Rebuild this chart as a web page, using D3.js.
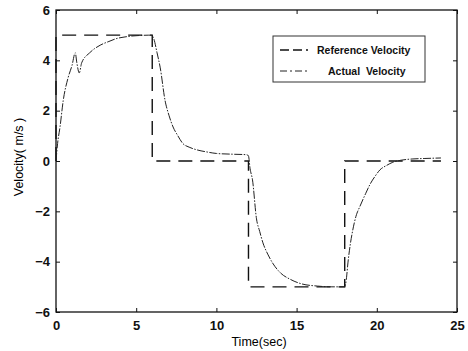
<!DOCTYPE html>
<html>
<head>
<meta charset="utf-8">
<script src="https://cdn.jsdelivr.net/npm/d3@7"></script>
<style>
  body { margin: 0; background: #fff; }
  svg text { font-family: "Liberation Sans", Arial, sans-serif; }
</style>
</head>
<body>
<div id="graph"></div>
<script>
// reference velocity (step profile)
var refTime = [0, 0, 6, 6, 12, 12, 18, 18, 24]
var refVel  = [0, 5, 5, 0, 0, -5, -5, 0, 0]

// actual velocity
var actTime = [0, 0.1, 0.25, 0.45, 0.75, 1.0, 1.2, 1.3, 1.45, 1.6, 2.1, 2.75, 3.3, 3.8, 4.3, 4.8, 5.3, 5.75, 5.95,
  6.1, 6.3, 6.5, 6.8, 7.05, 7.3, 7.6, 7.9, 8.3, 8.8, 9.4, 10.0, 11.0, 11.9, 12.0,
  12.1, 12.25, 12.5, 12.7, 12.9, 13.2, 13.5, 14.0, 14.6, 15.3, 16.3, 17.2, 17.9, 18.0,
  18.1, 18.2, 18.35, 18.5, 18.7, 18.95, 19.3, 19.6, 19.9, 20.2, 20.6, 21.0, 21.5, 22.2, 23.0, 24.0]
var actVel  = [0, 0.7, 1.35, 2.4, 3.3, 3.8, 4.3, 3.9, 3.5, 3.9, 4.3, 4.6, 4.75, 4.87, 4.93, 4.97, 4.99, 5.0, 5.0,
  4.85, 4.3, 3.7, 2.4, 1.8, 1.35, 1.0, 0.7, 0.55, 0.44, 0.36, 0.3, 0.27, 0.25, 0.2,
  -0.3, -0.75, -2.3, -2.8, -3.25, -3.7, -4.05, -4.45, -4.7, -4.88, -4.97, -5.0, -5.0, -5.0,
  -4.7, -4.05, -3.3, -2.75, -2.2, -1.8, -1.3, -0.9, -0.6, -0.35, -0.18, -0.05, 0.03, 0.08, 0.1, 0.12]

var xTicks = [0, 5, 10, 15, 20, 25]
var yTicks = [-6, -4, -2, 0, 2, 4, 6]
var legendLabels = ['Reference Velocity', 'Actual  Velocity']

var W = 468, H = 351
var mL = 56, mR = 457, mT = 10, mB = 312

var x = d3.scaleLinear().domain([0, 25]).range([mL, mR])
var y = d3.scaleLinear().domain([-6, 6]).range([mB, mT])

var svg = d3.select('#graph').append('svg')
    .attr('width', W)
    .attr('height', H)

// box
svg.append('rect')
    .attr('x', mL).attr('y', mT)
    .attr('width', mR - mL).attr('height', mB - mT)
    .attr('fill', 'none').attr('stroke', '#111').attr('stroke-width', 1.3)

// axes with inward ticks
svg.append('g').attr('transform', 'translate(0,' + mB + ')')
    .call(d3.axisBottom(x).tickValues(xTicks).tickSize(-4).tickPadding(9))
svg.append('g').attr('transform', 'translate(0,' + mT + ')')
    .call(d3.axisTop(x).tickValues(xTicks).tickSize(-4).tickFormat(''))
svg.append('g').attr('transform', 'translate(' + mL + ',0)')
    .call(d3.axisLeft(y).tickValues(yTicks).tickSize(-4).tickPadding(6))
svg.append('g').attr('transform', 'translate(' + mR + ',0)')
    .call(d3.axisRight(y).tickValues(yTicks).tickSize(-4).tickFormat(''))

svg.selectAll('.domain').remove()
svg.selectAll('.tick line').attr('stroke', '#111')
svg.selectAll('.tick text')
    .attr('fill', '#111')
    .style('font-size', '13px')
    .style('font-weight', 'bold')

// axis titles
svg.append('text')
    .attr('x', 259).attr('y', 346)
    .attr('text-anchor', 'middle')
    .style('font-size', '12.5px')
    .text('Time(sec)')

svg.append('text')
    .attr('transform', 'translate(23,157) rotate(-90)')
    .attr('text-anchor', 'middle')
    .style('font-size', '12.5px')
    .text('Velocity( m/s )')

var line = d3.line()
    .x(function(d){ return x(d[0]) })
    .y(function(d){ return y(d[1]) })

svg.append('path')
    .datum(refTime.map(function(t, i){ return [t, refVel[i]] }))
    .attr('d', line)
    .attr('fill', 'none')
    .attr('stroke', '#111')
    .attr('stroke-width', 1.4)
    .attr('stroke-dasharray', '14,8')

svg.append('path')
    .datum(actTime.map(function(t, i){ return [t, actVel[i]] }))
    .attr('d', d3.line().curve(d3.curveMonotoneX)
      .x(function(d){ return x(d[0]) })
      .y(function(d){ return y(d[1]) }))
    .attr('fill', 'none')
    .attr('stroke', '#222')
    .attr('stroke-width', 1)
    .attr('stroke-dasharray', '8,1.5,1.5,1.5')

// legend
var lg = svg.append('g')
lg.append('rect')
    .attr('x', 273).attr('y', 36)
    .attr('width', 152).attr('height', 46)
    .attr('fill', '#fff').attr('stroke', '#333').attr('stroke-width', 1)

lg.append('line')
    .attr('x1', 280).attr('x2', 308).attr('y1', 50).attr('y2', 50)
    .attr('stroke', '#111').attr('stroke-width', 1.4)
    .attr('stroke-dasharray', '9,4')
lg.append('line')
    .attr('x1', 280).attr('x2', 308).attr('y1', 71).attr('y2', 71)
    .attr('stroke', '#222').attr('stroke-width', 1)
    .attr('stroke-dasharray', '7,3,2,3')

lg.selectAll('text.lab').data(legendLabels).enter().append('text')
    .attr('class', 'lab')
    .attr('x', function(d, i){ return i == 0 ? 317 : 328 })
    .attr('y', function(d, i){ return i == 0 ? 54 : 75 })
    .style('font-size', '10.5px')
    .style('font-weight', 'bold')
    .attr('fill', '#111')
    .style('white-space', 'pre')
    .text(function(d){ return d })
</script>
</body>
</html>
